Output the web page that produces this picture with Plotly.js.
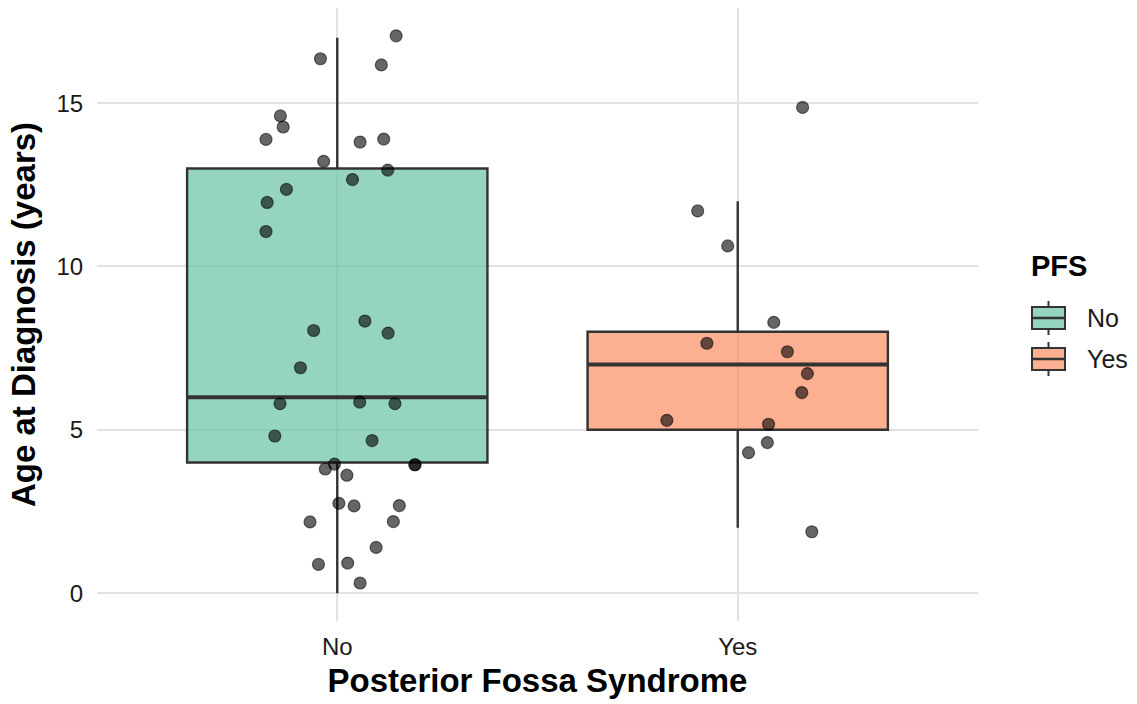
<!DOCTYPE html>
<html>
<head>
<meta charset="utf-8">
<script src="https://cdn.plot.ly/plotly-3.0.1.min.js"></script>
<style>html,body{margin:0;padding:0;background:#fff;}#chart{width:1137px;height:704px;}</style>
</head>
<body>
<div id="chart"></div>
<script>
// Categories and box statistics
var categories = ["No", "Yes"];
var q1Vals = [4, 5];
var medianVals = [6, 7];
var q3Vals = [13, 8];
var lowerWhisker = [0, 2];
var upperWhisker = [17, 12];

// Jittered points (offset from category centre, age in years)
var noJitter = [0.147,-0.042,0.110,-0.142,-0.135,-0.178,0.057,0.116,-0.034,0.126,0.038,-0.127,-0.175,-0.178,0.069,-0.059,0.127,-0.092,-0.143,0.056,0.144,-0.156,0.087,-0.007,-0.030,0.194,0.194,0.024,0.004,0.042,0.155,-0.068,0.140,0.097,-0.047,0.026,0.057];
var noAge = [17.06,16.36,16.17,14.61,14.27,13.89,13.81,13.90,13.22,12.95,12.66,12.36,11.96,11.07,8.33,8.04,7.96,6.90,5.80,5.85,5.80,4.81,4.67,3.95,3.80,3.93,3.93,3.61,2.75,2.67,2.68,2.18,2.19,1.40,0.88,0.92,0.31];
var yesJitter = [0.162,-0.100,-0.025,0.090,-0.077,0.124,0.174,0.160,-0.177,0.077,0.074,0.027,0.185];
var yesAge = [14.87,11.70,10.63,8.29,7.65,7.39,6.72,6.14,5.29,5.17,4.61,4.30,1.88];

var fills = ["rgba(102,194,165,0.7)", "rgba(252,141,98,0.7)"];
var boxWidth = 0.75;
var lineCol = "#333333";

var W = 1137, H = 704;
var M = {l: 97, r: 159, t: 8, b: 83};
var pw = W - M.l - M.r, ph = H - M.t - M.b;
function px(x) { return (x - M.l) / pw; }
function py(y) { return (H - M.b - y) / ph; }

var traces = [];
categories.forEach(function(c, i) {
  traces.push({
    type: "box",
    name: c,
    x: [i],
    q1: [q1Vals[i]],
    median: [medianVals[i]],
    q3: [q3Vals[i]],
    lowerfence: [lowerWhisker[i]],
    upperfence: [upperWhisker[i]],
    width: boxWidth,
    whiskerwidth: 0,
    fillcolor: fills[i],
    line: {color: lineCol, width: 2.4},
    boxpoints: false,
    hoverinfo: "skip",
    showlegend: false
  });
});
// Thicker median lines
categories.forEach(function(c, i) {
  traces.push({
    type: "scatter",
    mode: "lines",
    x: [i - boxWidth / 2, i + boxWidth / 2],
    y: [medianVals[i], medianVals[i]],
    line: {color: lineCol, width: 4},
    hoverinfo: "skip",
    showlegend: false
  });
});
var pointSets = [[noJitter, noAge], [yesJitter, yesAge]];
pointSets.forEach(function(ps, i) {
  traces.push({
    type: "scatter",
    mode: "markers",
    x: ps[0].map(function(d) { return i + d; }),
    y: ps[1],
    marker: {size: 12, color: "rgba(0,0,0,0.6)", line: {color: "rgba(0,0,0,0.55)", width: 1.2}},
    hoverinfo: "skip",
    showlegend: false
  });
});

// Custom legend (ggplot-style key glyphs)
var shapes = [];
var annotations = [];
annotations.push({
  xref: "paper", yref: "paper", x: px(1029), y: py(266), xanchor: "left", yanchor: "middle",
  text: "<b>PFS</b>", showarrow: false, font: {size: 29, color: "#000"}
});
var keyTop = [307, 348];
categories.forEach(function(c, i) {
  var t = keyTop[i], b = t + 22, mid = t + 11;
  var xl = 1032, xr = 1065, xc = (xl + xr) / 2;
  shapes.push({type: "line", xref: "paper", yref: "paper", x0: px(xc), x1: px(xc), y0: py(t - 6), y1: py(b + 6), line: {color: lineCol, width: 2}});
  shapes.push({type: "rect", xref: "paper", yref: "paper", x0: px(xl), x1: px(xr), y0: py(t), y1: py(b), fillcolor: "#ffffff", line: {width: 0}});
  shapes.push({type: "rect", xref: "paper", yref: "paper", x0: px(xl), x1: px(xr), y0: py(t), y1: py(b), fillcolor: fills[i], line: {color: lineCol, width: 2}});
  shapes.push({type: "line", xref: "paper", yref: "paper", x0: px(xl), x1: px(xr), y0: py(mid), y1: py(mid), line: {color: lineCol, width: 2.5}});
  annotations.push({
    xref: "paper", yref: "paper", x: px(1085), y: py(mid), xanchor: "left", yanchor: "middle",
    text: c, showarrow: false, font: {size: 25, color: "#1a1a1a"}
  });
});

var layout = {
  width: W,
  height: H,
  paper_bgcolor: "#ffffff",
  plot_bgcolor: "#ffffff",
  margin: M,
  font: {family: "Liberation Sans, Arial, sans-serif", color: "#000000"},
  xaxis: {
    range: [-0.6, 1.6],
    tickvals: [0, 1],
    ticktext: categories,
    showgrid: true,
    gridcolor: "#e2e2e2",
    gridwidth: 2,
    zeroline: false,
    showline: false,
    ticks: "outside",
    ticklen: 4,
    tickcolor: "rgba(0,0,0,0)",
    tickfont: {size: 24, color: "#1a1a1a"},
    title: {text: "<b>Posterior Fossa Syndrome</b>", font: {size: 33, color: "#000"}, standoff: 10}
  },
  yaxis: {
    range: [-0.853, 17.913],
    tickvals: [0, 5, 10, 15],
    showgrid: true,
    gridcolor: "#e2e2e2",
    gridwidth: 2,
    zeroline: false,
    showline: false,
    ticks: "outside",
    ticklen: 8,
    tickcolor: "rgba(0,0,0,0)",
    tickfont: {size: 24, color: "#1a1a1a"},
    title: {text: "<b>Age at Diagnosis (years)</b>", font: {size: 33, color: "#000"}, standoff: 10}
  },
  shapes: shapes,
  annotations: annotations,
  showlegend: false
};

Plotly.newPlot("chart", traces, layout, {displayModeBar: false, staticPlot: true});
</script>
</body>
</html>
